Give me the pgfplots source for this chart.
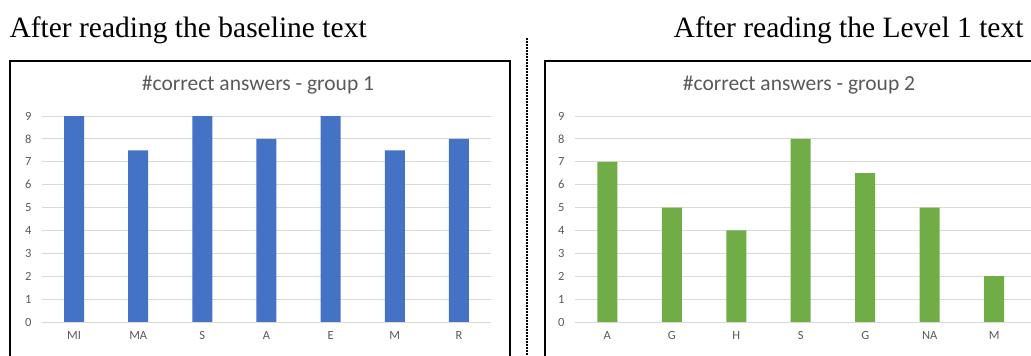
\documentclass[border=0pt]{standalone}
\usepackage{pgfplots}
\pgfplotsset{compat=1.18}
\usepackage{fontspec}
\setmainfont{Liberation Serif}
\newfontfamily\calfont{Carlito}
\definecolor{barblue}{HTML}{4472C4}
\definecolor{bargreen}{HTML}{70AD47}
\definecolor{gridgray}{HTML}{D9D9D9}
\definecolor{txtgray}{HTML}{595959}
\begin{document}
\begin{tikzpicture}[x=1pt,y=1pt]
\path[use as bounding box] (0,0) rectangle (1031,356);
\pgfplotsset{
  mybar/.style={
    scale only axis,
    width=449pt, height=206pt,
    anchor=south west,
    ybar, bar width=20pt,
    ymin=0, ymax=9,
    ytick={0,...,9},
    xtick=data,
    axis line style={draw=none},
    major tick length=0pt,
    ymajorgrids,
    grid style={gridgray, line width=0.8pt},
    /pgf/number format/assume math mode=true,
    tick label style={font=\calfont\fontsize{12.5}{14}\selectfont, text=txtgray},
    yticklabel style={xshift=-7pt},
    xticklabel style={yshift=-6pt},
    clip=false,
  }
}
% left chart
\begin{axis}[mybar, at={(42pt,34pt)}, xmin=-0.5, xmax=6.5,
  xticklabels={MI,MA,S,A,E,M,R}]
\addplot[fill=barblue, draw=none] coordinates {(0,9) (1,7.5) (2,9) (3,8) (4,9) (5,7.5) (6,8)};
\end{axis}
% right chart
\begin{axis}[mybar, at={(575pt,34pt)}, width=456pt, xmin=-0.5, xmax=6.57,
  xticklabels={A,G,H,S,G,NA,M}]
\addplot[fill=bargreen, draw=none] coordinates {(0,7) (1,5) (2,4) (3,8) (4,6.5) (5,5) (6,2)};
\end{axis}
% frames
\draw[line width=1.6pt] (10,-2) -- (10,295) -- (510,295) -- (510,-2);
\draw[line width=1.6pt] (545,-2) -- (545,295) -- (1035,295);
\draw[line width=2pt, dash pattern=on 1.5pt off 1.5pt] (527,-2) -- (527,318);
% titles
\node[anchor=west, font=\fontsize{29.5}{31}\selectfont] at (6,326) {After reading the baseline text};
\node[anchor=east, font=\fontsize{29.5}{31}\selectfont] at (1027,326) {After reading the Level 1 text};
\node[font=\calfont\fontsize{21.5}{24}\selectfont, text=txtgray] at (258,271) {\#correct answers - group 1};
\node[font=\calfont\fontsize{21.5}{24}\selectfont, text=txtgray] at (799,271) {\#correct answers - group 2};
\end{tikzpicture}
\end{document}
